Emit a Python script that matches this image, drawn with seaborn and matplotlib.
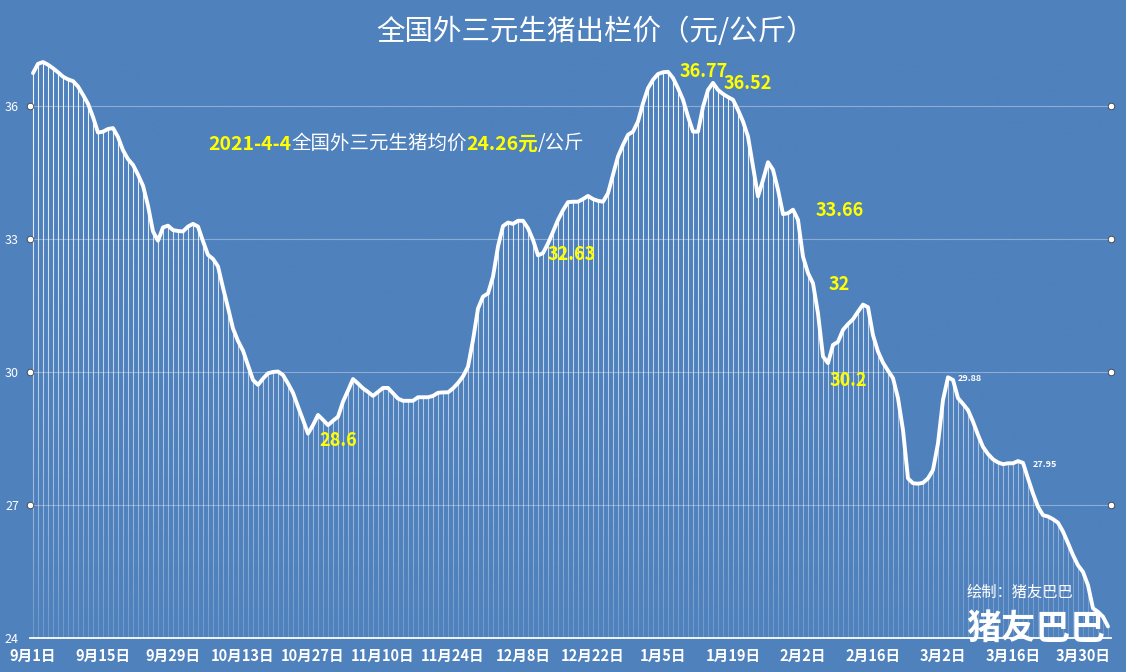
import numpy as np
import matplotlib
matplotlib.use("Agg")
import matplotlib.pyplot as plt
import matplotlib.transforms as mtransforms
import seaborn as sns

# daily price, 2020-09-01 .. 2021-04-04
prices = [
    36.74, 36.95, 36.99, 36.93, 36.85, 36.76, 36.66, 36.60, 36.56, 36.44,
    36.25, 36.05, 35.75, 35.40, 35.42, 35.48, 35.50, 35.30, 35.00, 34.80,
    34.67, 34.45, 34.20, 33.75, 33.17, 32.96, 33.26, 33.30, 33.20, 33.18,
    33.17, 33.28, 33.34, 33.28, 32.95, 32.64, 32.55, 32.38, 31.90, 31.45,
    30.98, 30.70, 30.48, 30.15, 29.82, 29.71, 29.85, 29.97, 30.00, 30.01,
    29.93, 29.74, 29.53, 29.22, 28.92, 28.61, 28.80, 29.03, 28.92, 28.80,
    28.90, 28.99, 29.33, 29.58, 29.84, 29.74, 29.63, 29.55, 29.46, 29.55,
    29.64, 29.64, 29.52, 29.40, 29.35, 29.35, 29.35, 29.43, 29.43, 29.43,
    29.46, 29.53, 29.54, 29.54, 29.63, 29.75, 29.90, 30.12, 30.72, 31.43,
    31.70, 31.77, 32.15, 32.83, 33.29, 33.37, 33.34, 33.41, 33.41, 33.24,
    32.98, 32.63, 32.68, 32.90, 33.16, 33.43, 33.65, 33.83, 33.84, 33.84,
    33.90, 33.97, 33.90, 33.86, 33.84, 34.03, 34.45, 34.86, 35.12, 35.35,
    35.42, 35.65, 36.06, 36.40, 36.59, 36.72, 36.76, 36.77, 36.63, 36.40,
    36.14, 35.76, 35.42, 35.42, 35.98, 36.36, 36.52, 36.36, 36.27, 36.20,
    36.14, 35.91, 35.65, 35.31, 34.63, 33.96, 34.33, 34.73, 34.56, 34.11,
    33.56, 33.58, 33.66, 33.43, 32.60, 32.23, 32.00, 31.32, 30.35, 30.20,
    30.61, 30.68, 30.95, 31.08, 31.19, 31.36, 31.52, 31.46, 30.83, 30.46,
    30.21, 30.03, 29.86, 29.41, 28.69, 27.60, 27.49, 27.48, 27.50, 27.60,
    27.79, 28.39, 29.37, 29.88, 29.82, 29.41, 29.28, 29.14, 28.88, 28.58,
    28.31, 28.15, 28.03, 27.96, 27.92, 27.94, 27.94, 27.99, 27.95, 27.60,
    27.26, 26.96, 26.77, 26.74, 26.68, 26.60, 26.40, 26.14, 25.87, 25.64,
    25.49, 25.19, 24.67, 24.59, 24.48, 24.26,
]
tick_labels = ["9月1日", "9月15日", "9月29日", "10月13日", "10月27日", "11月10日",
               "11月24日", "12月8日", "12月22日", "1月5日", "1月19日", "2月2日",
               "2月16日", "3月2日", "3月16日", "3月30日"]
y_ticks = [24, 27, 30, 33, 36]
yellow_notes = ["28.6", "32.63", "36.77", "36.52", "33.66", "32", "30.2"]
white_notes = ["29.88", "27.95"]

BG = "#4f81bd"
sns.set_style("white")
plt.rcParams["font.family"] = ["Noto Sans CJK SC", "DejaVu Sans"]

days = np.arange(len(prices))
ymin, ymax = 24, 37.6
xmin, xmax = -0.6, 215.6

fig = plt.figure(figsize=(11.26, 6.72), dpi=100, facecolor=BG)
ax = fig.add_axes([30 / 1126, 34 / 672, 1081 / 1126, 1 - 34 / 672 - 35 / 672])
ax.set_facecolor(BG)

# drop lines, faded toward the bottom by a gradient overlay
ax.vlines(days, ymin, prices, color="white", lw=0.8, alpha=0.95, zorder=1)
t = np.linspace(0, 1, 300)[:, None]
rgba = np.zeros((300, 1, 4))
rgba[..., :3] = matplotlib.colors.to_rgb(BG)
rgba[..., 3] = 0.82 * t ** 1.6
ax.imshow(rgba, extent=(xmin, xmax, ymin, ymax), aspect="auto", zorder=2,
          interpolation="bilinear")

for y in y_ticks[1:]:
    ax.axhline(y, color="white", lw=0.8, alpha=0.35, zorder=2.5)
tr = mtransforms.blended_transform_factory(ax.transAxes, ax.transData)
for xe in (0, 1):
    ax.scatter([xe] * 4, y_ticks[1:], s=22, color="white", edgecolor="#404040",
               lw=0.6, transform=tr, clip_on=False, zorder=5)

sns.lineplot(x=days, y=prices, color="white", lw=2.8, ax=ax, zorder=4)

ax.set_xlim(xmin, xmax)
ax.set_ylim(ymin, ymax)
ax.set_xticks(np.arange(0, len(prices), 14))
ax.set_xticklabels(tick_labels, color="white", fontsize=10.5, fontweight="bold")
ax.set_yticks(y_ticks)
ax.set_yticklabels([str(v) for v in y_ticks], color="white", fontsize=9)
ax.tick_params(axis="x", colors="white", length=4, width=1.2, pad=3)
ax.tick_params(axis="y", length=0, pad=8)
for s in ("top", "right", "left"):
    ax.spines[s].set_visible(False)
ax.spines["bottom"].set_color("white")
ax.spines["bottom"].set_linewidth(1.3)
ax.set_xlabel("")
ax.set_ylabel("")

# annotations
yellow_pos = [(61, 28.45), (107.8, 32.64), (134.2, 36.77), (143, 36.50),
              (161.4, 33.65), (161.2, 31.98), (163, 29.80)]
for txt, (x, y) in zip(yellow_notes, yellow_pos):
    ax.text(x, y, txt, color="#ffff00", fontsize=13, fontweight="bold",
            ha="center", va="center", zorder=6)
white_pos = [(187.4, 29.86), (202.4, 27.92)]
for txt, (x, y) in zip(white_notes, white_pos):
    ax.text(x, y, txt, color="white", fontsize=6.5, fontweight="bold",
            ha="center", va="center", zorder=6)

# title and subtitle
fig.text(596 / 1126, 1 - 32 / 672, "全国外三元生猪出栏价（元/公斤）", color="white",
         fontsize=20.5, ha="center", va="center")
parts = [("2021-4-4", "#ffff00", "bold"), ("全国外三元生猪均价", "white", "normal"),
         ("24.26元", "#ffff00", "bold"), ("/公斤", "white", "normal")]
prev = fig.text(208 / 1126, 1 - 150 / 672, parts[0][0], color=parts[0][1],
                fontweight=parts[0][2], fontsize=14, va="baseline")
for txt, col, wt in parts[1:]:
    prev = ax.annotate(txt, xy=(1, 0), xycoords=prev, va="bottom", color=col,
                       fontweight=wt, fontsize=14, zorder=6)

# watermark
fig.text(1020 / 1126, 1 - 592 / 672, "绘制：猪友巴巴", color="white", fontsize=11,
         ha="center", va="center")
fig.text(1036 / 1126, 1 - 628 / 672, "猪友巴巴", color="white", fontsize=25,
         fontweight="bold", ha="center", va="center", zorder=10)

fig.savefig("out.png", dpi=100, facecolor=BG)
